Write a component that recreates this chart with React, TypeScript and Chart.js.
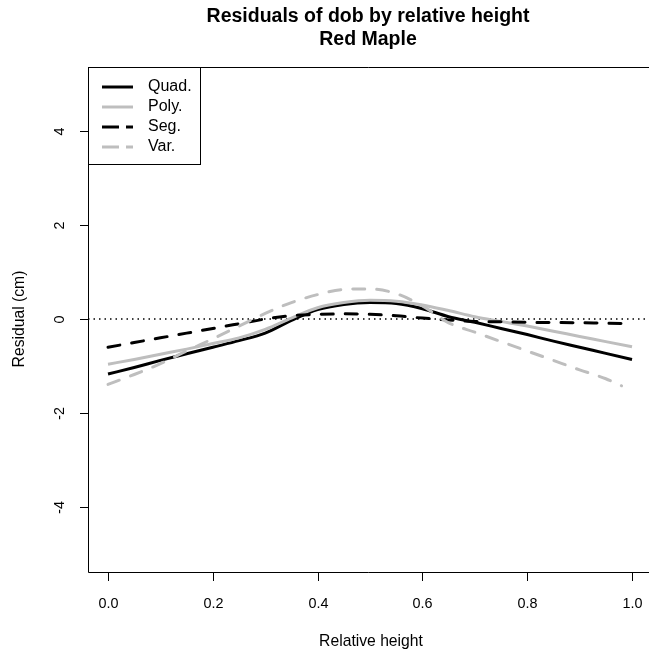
import React, { useEffect, useRef } from "react";
import { Chart, registerables } from "chart.js";

Chart.register(...registerables);

const titleLines = ["Residuals of dob by relative height", "Red Maple"];
const xTitle = "Relative height";
const yTitle = "Residual (cm)";
const xTicks = [0, 0.2, 0.4, 0.6, 0.8, 1.0];
const xTickLabels = ["0.0", "0.2", "0.4", "0.6", "0.8", "1.0"];
const yTicks = [4, 2, 0, -2, -4];
const yTickLabels = ["4", "2", "0", "-2", "-4"];

const heights = [0, 0.05, 0.1, 0.15, 0.2, 0.25, 0.3, 0.35, 0.4, 0.45, 0.5, 0.55, 0.6, 0.65, 0.7, 0.75, 0.8, 0.85, 0.9, 0.95, 1.0];
const varHeights = [0, 0.05, 0.1, 0.15, 0.2, 0.25, 0.3, 0.35, 0.4, 0.45, 0.5, 0.55, 0.6, 0.65, 0.7, 0.75, 0.8, 0.85, 0.9, 0.95, 0.98];

const quad = [-1.17, -1.03, -0.88, -0.74, -0.6, -0.46, -0.3, -0.03, 0.2, 0.31, 0.35, 0.33, 0.22, 0.05, -0.07, -0.2, -0.33, -0.47, -0.6, -0.73, -0.86];
const poly = [-0.96, -0.86, -0.75, -0.64, -0.52, -0.4, -0.22, 0.02, 0.24, 0.35, 0.4, 0.38, 0.3, 0.18, 0.05, -0.05, -0.15, -0.26, -0.37, -0.48, -0.59];
const seg = [-0.6, -0.5, -0.4, -0.3, -0.2, -0.1, 0.0, 0.07, 0.1, 0.11, 0.1, 0.07, 0.02, -0.02, -0.05, -0.06, -0.07, -0.075, -0.08, -0.09, -0.1];
const varr = [-1.39, -1.18, -0.95, -0.68, -0.42, -0.15, 0.12, 0.35, 0.52, 0.63, 0.64, 0.54, 0.28, -0.08, -0.28, -0.48, -0.68, -0.88, -1.08, -1.27, -1.42];

const legendLabels = ["Quad.", "Poly.", "Seg.", "Var."];
const BLACK = "#000000";
const GRAY = "#bebebe";
const FONT = "'Liberation Sans', Arial, Helvetica, sans-serif";

const toPts = (xs: number[], ys: number[]) => xs.map((x, i) => ({ x, y: ys[i] }));

const rPlugin = {
  id: "rplot",
  beforeDatasetsDraw(chart: any) {
    const { ctx, chartArea } = chart;
    const y0 = chart.scales.y.getPixelForValue(0);
    ctx.save();
    ctx.strokeStyle = BLACK;
    ctx.lineWidth = 1.5;
    ctx.setLineDash([1.5, 4]);
    ctx.lineCap = "butt";
    ctx.beginPath();
    ctx.moveTo(chartArea.left, y0);
    ctx.lineTo(chart.width, y0);
    ctx.stroke();
    ctx.restore();
  },
  afterDraw(chart: any) {
    const { ctx, chartArea } = chart;
    const xs = chart.scales.x;
    const ys = chart.scales.y;
    const L = chartArea.left, T = chartArea.top, B = chartArea.bottom, R = chart.width;
    ctx.save();
    // box
    ctx.strokeStyle = BLACK;
    ctx.lineWidth = 1;
    ctx.setLineDash([]);
    ctx.beginPath();
    ctx.moveTo(R, T + 0.5);
    ctx.lineTo(L + 0.5, T + 0.5);
    ctx.lineTo(L + 0.5, B + 0.5);
    ctx.lineTo(R, B + 0.5);
    ctx.stroke();
    // x ticks
    ctx.fillStyle = BLACK;
    ctx.font = `14.4px ${FONT}`;
    ctx.textAlign = "center";
    ctx.textBaseline = "middle";
    xTicks.forEach((v, i) => {
      const px = Math.round(xs.getPixelForValue(v)) + 0.5;
      ctx.beginPath();
      ctx.moveTo(px, B + 1);
      ctx.lineTo(px, B + 9);
      ctx.stroke();
      ctx.fillText(xTickLabels[i], px, 604);
    });
    // y ticks
    yTicks.forEach((v, i) => {
      const py = Math.round(ys.getPixelForValue(v)) + 0.5;
      ctx.beginPath();
      ctx.moveTo(L, py);
      ctx.lineTo(L - 8, py);
      ctx.stroke();
      ctx.save();
      ctx.translate(60, py);
      ctx.rotate(-Math.PI / 2);
      ctx.fillText(yTickLabels[i], 0, 0);
      ctx.restore();
    });
    // axis titles
    ctx.font = `15.7px ${FONT}`;
    ctx.fillText(xTitle, 371, 642);
    ctx.save();
    ctx.translate(20, ys.getPixelForValue(0));
    ctx.rotate(-Math.PI / 2);
    ctx.fillText(yTitle, 0, 0);
    ctx.restore();
    // main title
    ctx.font = `bold 19.5px ${FONT}`;
    ctx.fillText(titleLines[0], 368, 17);
    ctx.fillText(titleLines[1], 368, 40);
    // legend
    ctx.fillStyle = "#ffffff";
    ctx.fillRect(L + 1, T + 1, 111, 96);
    ctx.strokeStyle = BLACK;
    ctx.lineWidth = 1;
    ctx.strokeRect(L + 0.5, T + 0.5, 112, 97);
    const colors = [BLACK, GRAY, BLACK, GRAY];
    const dashed = [false, false, true, true];
    ctx.font = `16px ${FONT}`;
    ctx.textAlign = "left";
    legendLabels.forEach((lab, i) => {
      const y = T + 20 + i * 20;
      ctx.strokeStyle = colors[i];
      ctx.lineWidth = 3;
      ctx.lineCap = "butt";
      ctx.setLineDash(dashed[i] ? [17, 7] : []);
      ctx.beginPath();
      ctx.moveTo(102, y);
      ctx.lineTo(133, y);
      ctx.stroke();
      ctx.fillStyle = BLACK;
      ctx.fillText(lab, 148, y);
    });
    ctx.restore();
  },
};

export default function App() {
  const ref = useRef<HTMLCanvasElement | null>(null);
  useEffect(() => {
    if (!ref.current) return;
    const common = { showLine: true, pointRadius: 0, borderWidth: 3, cubicInterpolationMode: "monotone" as const, fill: false };
    const chart = new Chart(ref.current, {
      type: "scatter",
      data: {
        datasets: [
          { label: "Var.", data: toPts(varHeights, varr), borderColor: GRAY, borderDash: [12, 12], borderCapStyle: "round", ...common },
          { label: "Seg.", data: toPts(heights, seg), borderColor: BLACK, borderDash: [12, 12], borderCapStyle: "round", ...common },
          { label: "Poly.", data: toPts(heights, poly), borderColor: GRAY, ...common },
          { label: "Quad.", data: toPts(heights, quad), borderColor: BLACK, ...common },
        ],
      },
      options: {
        responsive: false,
        animation: false,
        events: [],
        layout: { padding: { left: 88, top: 67, right: 0, bottom: 84 } },
        plugins: { legend: { display: false }, tooltip: { enabled: false }, title: { display: false } },
        scales: {
          x: { type: "linear", display: false, min: -0.0382, max: 1.0324 },
          y: { type: "linear", display: false, min: -5.38, max: 5.36 },
        },
      },
      plugins: [rPlugin],
    } as any);
    return () => chart.destroy();
  }, []);
  return (
    <div style={{ position: "absolute", left: 0, top: 0, width: 649, height: 656, background: "#fff" }}>
      <canvas ref={ref} width={649} height={656} style={{ display: "block" }} />
    </div>
  );
}
